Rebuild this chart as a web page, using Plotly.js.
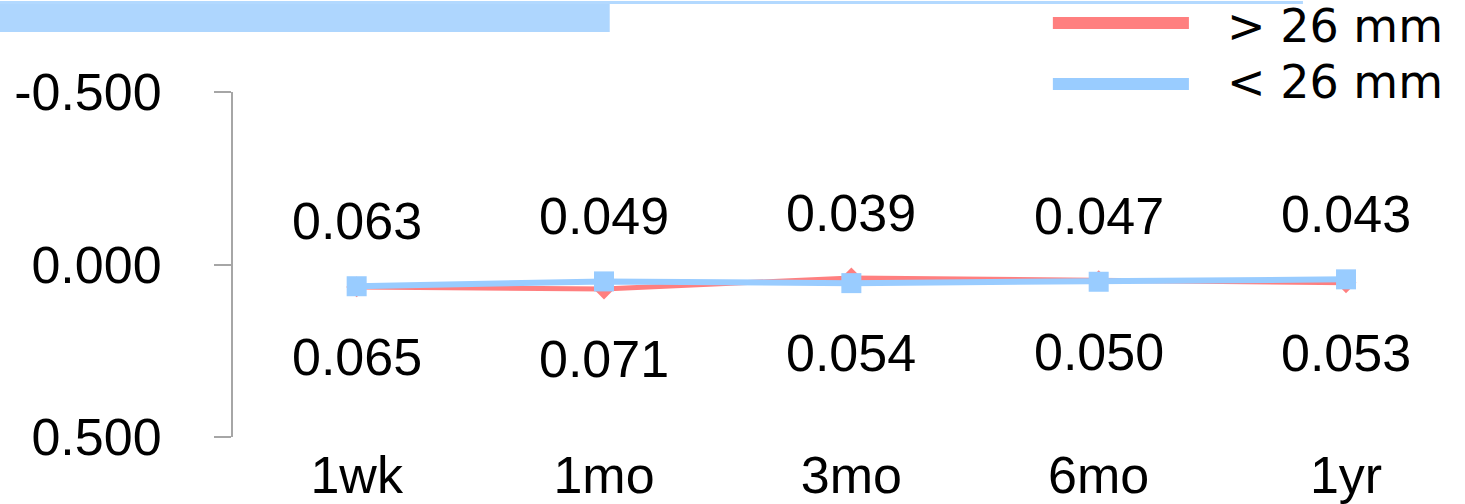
<!DOCTYPE html>
<html>
<head>
<meta charset="utf-8">
<script src="https://cdn.plot.ly/plotly-3.0.1.min.js"></script>
<style>
html,body{margin:0;padding:0;background:#fff;}
#chart{width:1465px;height:504px;}
</style>
</head>
<body>
<div id="chart"></div>
<script>
// ---- data ----
var categories = ["1wk", "1mo", "3mo", "6mo", "1yr"];
var seriesNames = ["> 26 mm", "< 26 mm"];
var above26 = [0.065, 0.071, 0.039, 0.047, 0.053];
var below26 = [0.063, 0.049, 0.054, 0.050, 0.043];
var yTickVals = [-0.5, 0, 0.5];
var yTickText = ["-0.500", "0.000", "0.500"];

// ---- layout geometry ----
var W = 1465, H = 504;
var ML = 233.4, MR = 0, MT = 92, MB = 67;
var PW = W - ML - MR, PH = H - MT - MB;
function px(x){ return (x - ML) / PW; }
function py(y){ return (MT + PH - y) / PH; }

var red = "#ff7f7f", blue = "#99ccff";
var numFont = {family: "Liberation Sans, Arial, sans-serif", size: 52, color: "#000"};
var legFont = {family: "DejaVu Sans, Verdana, sans-serif", size: 46, color: "#000"};

var traces = [
  {x: categories, y: above26, type: "scatter", mode: "lines+markers", name: seriesNames[0],
   line: {color: red, width: 5}, marker: {symbol: "diamond", size: 16, color: red}, showlegend: false},
  {x: categories, y: below26, type: "scatter", mode: "lines+markers", name: seriesNames[1],
   line: {color: blue, width: 6}, marker: {symbol: "square", size: 20, color: blue}, showlegend: false}
];

var annotations = [];
for (var i = 0; i < categories.length; i++) {
  var lo = Math.min(above26[i], below26[i]);
  var hi = Math.max(above26[i], below26[i]);
  annotations.push({x: categories[i], y: lo, xref: "x", yref: "y", text: lo.toFixed(3),
    showarrow: false, yshift: 65, font: numFont, xanchor: "center", yanchor: "middle"});
  annotations.push({x: categories[i], y: hi, xref: "x", yref: "y", text: hi.toFixed(3),
    showarrow: false, yshift: -70, font: numFont, xanchor: "center", yanchor: "middle"});
}
// legend text
annotations.push({x: px(1225), y: py(26), xref: "paper", yref: "paper", text: seriesNames[0],
  showarrow: false, font: legFont, xanchor: "left", yanchor: "middle"});
annotations.push({x: px(1225), y: py(82), xref: "paper", yref: "paper", text: seriesNames[1],
  showarrow: false, font: legFont, xanchor: "left", yanchor: "middle"});

var shapes = [
  // header band
  {type: "rect", xref: "paper", yref: "paper", x0: px(0), x1: px(610), y0: py(32), y1: py(2),
   fillcolor: "#aed6fe", line: {width: 0}},
  {type: "line", xref: "paper", yref: "paper", x0: px(0), x1: px(1303), y0: py(2.5), y1: py(2.5),
   line: {color: "#b3d9ff", width: 3}},
  // legend lines
  {type: "line", xref: "paper", yref: "paper", x0: px(1053), x1: px(1189), y0: py(23), y1: py(23),
   line: {color: red, width: 12}},
  {type: "line", xref: "paper", yref: "paper", x0: px(1053), x1: px(1189), y0: py(84), y1: py(84),
   line: {color: blue, width: 12}}
];

var layout = {
  width: W, height: H,
  margin: {l: ML, r: MR, t: MT, b: MB, pad: 0},
  paper_bgcolor: "#fff", plot_bgcolor: "#fff",
  showlegend: false,
  xaxis: {type: "category", range: [-0.5, 4.481], showgrid: false, zeroline: false, showline: false,
    ticks: "", tickfont: numFont, ticklabelstandoff: 3, fixedrange: true},
  yaxis: {range: [0.5, -0.5], showgrid: false, zeroline: false, showline: true, linecolor: "#a6a6a6",
    linewidth: 2, ticks: "outside", ticklen: 17, tickwidth: 2, tickcolor: "#a6a6a6",
    tickvals: yTickVals, ticktext: yTickText, tickfont: numFont, ticklabelstandoff: 42, fixedrange: true},
  shapes: shapes,
  annotations: annotations
};

Plotly.newPlot("chart", traces, layout, {displayModeBar: false, staticPlot: true});
</script>
</body>
</html>
